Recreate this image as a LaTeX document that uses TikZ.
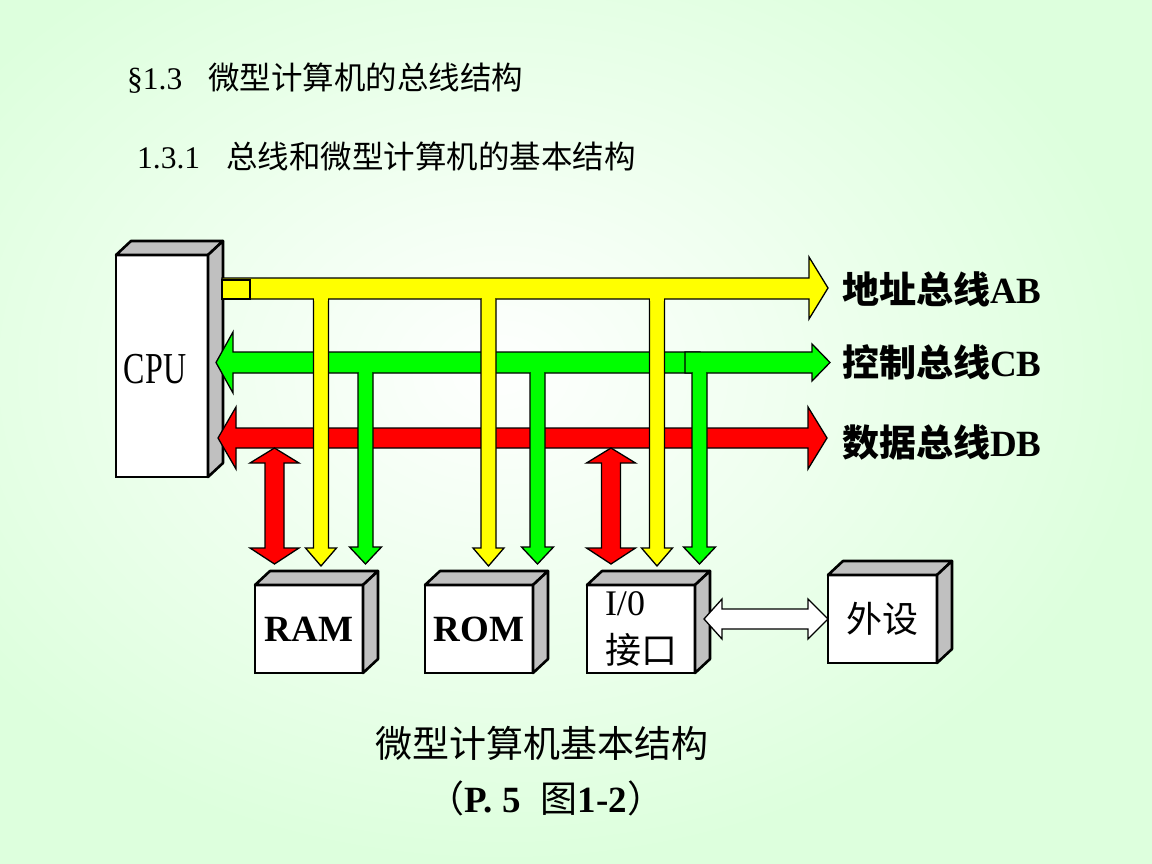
\documentclass[tikz,border=0pt]{standalone}
\usepackage{fontspec}
\setmainfont{Liberation Serif}
\newfontfamily\cjk{Noto Sans CJK SC}
\usetikzlibrary{calc}
\definecolor{busyellow}{RGB}{255,255,0}
\definecolor{busgreen}{RGB}{0,255,0}
\definecolor{busred}{RGB}{255,0,0}
\definecolor{sidegray}{RGB}{192,192,192}
\definecolor{bginner}{RGB}{254,255,254}
\definecolor{bgouter}{RGB}{221,255,221}
\newcommand\fsz[1]{\fontsize{#1}{#1}\selectfont}
% grey top and side faces of a box node
\newcommand\cubefaces[1]{%
  \draw[face] (#1.north west) -- ++(15,-14) -- ($(#1.north east)+(15,-14)$) -- (#1.north east) -- cycle;
  \draw[face] (#1.north east) -- ++(15,-14) -- ($(#1.south east)+(15,-14)$) -- (#1.south east) -- cycle;}

\begin{document}
\begin{tikzpicture}[x=1pt,y=-1pt,
    box/.style={draw,line width=2.6pt,fill=white,inner sep=0pt,outer sep=0pt},
    face/.style={draw,line width=2.6pt,fill=sidegray,line join=round},
    fat/.style={draw,line width=1.3pt,line join=miter},
    lbl/.style={anchor=west,inner sep=0pt,font=\fsz{37}\bfseries}]
  \useasboundingbox (0,0) rectangle (1152,864);
  \shade[inner color=bginner,outer color=bgouter] (-150,-120) rectangle (1152,864);

  \node[anchor=base west,inner sep=0pt,font=\fsz{31.5}] (sec) at (127,90)
    {§1.3\hspace{26pt}{\cjk 微型计算机的总线结构}};
  \node[anchor=base west,inner sep=0pt,font=\fsz{31.5}] (subsec) at (137,168)
    {1.3.1\hspace{26pt}{\cjk 总线和微型计算机的基本结构}};

  % CPU
  \node[box,minimum width=92,minimum height=222] (cpu) at (162,366) {};
  \cubefaces{cpu}
  \node[font=\fsz{32}] (cpulbl) at (155,369) {\scalebox{1}[1.38]{CPU}};

  % address bus
  \draw[fat,fill=busyellow] (222,278) -- (809,278) -- (809,257) -- (828,288)
    -- (809,319) -- (809,299) -- (222,299) -- cycle;
  \draw[fat,fill=busyellow] (222,280) rectangle (250,299);
  % control bus
  \draw[fat,fill=busgreen] (216,362.5) -- (233,332) -- (233,352) -- (700,352)
    -- (700,373) -- (233,373) -- (233,393) -- cycle;
  \draw[fat,fill=busgreen] (685,352) -- (812,352) -- (812,344) -- (830,362.5)
    -- (812,381) -- (812,373) -- (685,373) -- cycle;
  % data bus
  \draw[fat,fill=busred] (218,438) -- (236,407) -- (236,428) -- (808,428)
    -- (808,407) -- (827,438) -- (808,469) -- (808,448) -- (236,448)
    -- (236,469) -- cycle;

  \foreach \x in {274.5,611}{
    \draw[fat,fill=busred] (\x,448) -- (\x+24.5,463) -- (\x+9.5,463)
      -- (\x+9.5,548) -- (\x+24.5,548) -- (\x,564) -- (\x-24.5,548)
      -- (\x-9.5,548) -- (\x-9.5,463) -- (\x-24.5,463) -- cycle;}
  \foreach \x in {365.5,537.5,699.5}{
    \path[fat,fill=busgreen] (\x-7.5,373) -- (\x-7.5,547) -- (\x-16,547)
      -- (\x,564) -- (\x+16,547) -- (\x+7.5,547) -- (\x+7.5,373);
    \fill[busgreen] (\x-6.8,368) rectangle (\x+6.8,375);}
  \foreach \x in {321,488.5,657}{
    \path[fat,fill=busyellow] (\x-7.5,299) -- (\x-7.5,548) -- (\x-15.5,548)
      -- (\x,566) -- (\x+15.5,548) -- (\x+7.5,548) -- (\x+7.5,299);
    \fill[busyellow] (\x-6.8,294) rectangle (\x+6.8,301);}

  % memory, interface, device
  \node[box,minimum width=108,minimum height=88,font=\fsz{37}\bfseries] (ram) at (309,629) {RAM};
  \node[box,minimum width=108,minimum height=88,font=\fsz{37}\bfseries] (rom) at (479,629) {ROM};
  \node[box,minimum width=108,minimum height=88,align=left,
    font=\fontsize{36}{48}\selectfont] (io) at (641,629) {I/0\\{\cjk 接口}};
  \node[box,minimum width=109,minimum height=88,font=\fsz{36}\cjk] (dev) at (882.5,619) {外设};
  \foreach \n in {ram,rom,io,dev}{\cubefaces{\n}}

  \draw[fat,fill=white] (dev.west) -- ++(-20,-20) -- ++(0,10) -- ++(-86,0)
    -- ++(0,-10) -- ++(-18,20) -- ++(18,20) -- ++(0,-10) -- ++(86,0)
    -- ++(0,10) -- cycle;

  \node[lbl] (ab) at (842,289) {{\cjk 地址总线}AB};
  \node[lbl] (cb) at (842,362) {{\cjk 控制总线}CB};
  \node[lbl] (db) at (842,442) {{\cjk 数据总线}DB};

  \node[font=\fsz{37}\cjk] (cap) at (542,743) {微型计算机基本结构};
  \node[font=\fsz{37}] (capref) at (546,798)
    {{\cjk （}\textbf{P. 5}\hspace{20pt}{\cjk 图}\textbf{1-2}{\cjk ）}};
\end{tikzpicture}
\end{document}
